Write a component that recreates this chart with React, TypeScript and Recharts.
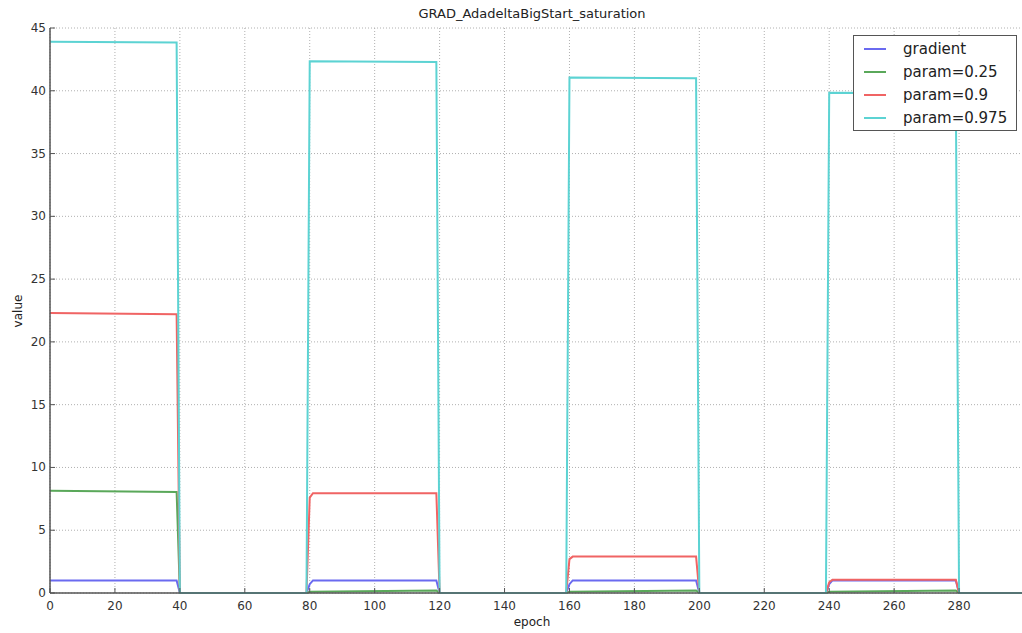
import React from "react";
import { LineChart, Line, XAxis, YAxis, CartesianGrid } from "recharts";

// tick values
const xTicks = [0, 20, 40, 60, 80, 100, 120, 140, 160, 180, 200, 220, 240, 260, 280];
const yTicks = [0, 5, 10, 15, 20, 25, 30, 35, 40, 45];

// breakpoints of each series
const gradient = [
  { epoch: 0, value: 1 }, { epoch: 39, value: 1 }, { epoch: 40, value: 0 },
  { epoch: 79, value: 0 }, { epoch: 80, value: 0.7 }, { epoch: 81, value: 1 },
  { epoch: 119, value: 1 }, { epoch: 120, value: 0 },
  { epoch: 159, value: 0 }, { epoch: 160, value: 0.7 }, { epoch: 161, value: 1 },
  { epoch: 199, value: 1 }, { epoch: 200, value: 0 },
  { epoch: 239, value: 0 }, { epoch: 240, value: 0.7 }, { epoch: 241, value: 1 },
  { epoch: 279, value: 1 }, { epoch: 280, value: 0 }, { epoch: 300, value: 0 },
];

const param025 = [
  { epoch: 0, value: 8.15 }, { epoch: 39, value: 8.05 }, { epoch: 40, value: 0 },
  { epoch: 79, value: 0 }, { epoch: 80, value: 0.1 }, { epoch: 119, value: 0.2 }, { epoch: 120, value: 0 },
  { epoch: 159, value: 0 }, { epoch: 160, value: 0.1 }, { epoch: 199, value: 0.2 }, { epoch: 200, value: 0 },
  { epoch: 239, value: 0 }, { epoch: 240, value: 0.1 }, { epoch: 279, value: 0.2 }, { epoch: 280, value: 0 },
  { epoch: 300, value: 0 },
];

const param09 = [
  { epoch: 0, value: 22.3 }, { epoch: 39, value: 22.2 }, { epoch: 40, value: 0 },
  { epoch: 79, value: 0 }, { epoch: 80, value: 7.6 }, { epoch: 81, value: 7.95 },
  { epoch: 119, value: 7.95 }, { epoch: 120, value: 0 },
  { epoch: 159, value: 0 }, { epoch: 160, value: 2.7 }, { epoch: 161, value: 2.9 },
  { epoch: 199, value: 2.9 }, { epoch: 200, value: 0 },
  { epoch: 239, value: 0 }, { epoch: 240, value: 0.85 }, { epoch: 241, value: 1.05 },
  { epoch: 279, value: 1.05 }, { epoch: 280, value: 0 }, { epoch: 300, value: 0 },
];

const param0975 = [
  { epoch: 0, value: 43.9 }, { epoch: 39, value: 43.85 }, { epoch: 40, value: 0 },
  { epoch: 79, value: 0 }, { epoch: 80, value: 42.35 }, { epoch: 119, value: 42.3 }, { epoch: 120, value: 0 },
  { epoch: 159, value: 0 }, { epoch: 160, value: 41.05 }, { epoch: 199, value: 41.0 }, { epoch: 200, value: 0 },
  { epoch: 239, value: 0 }, { epoch: 240, value: 39.85 }, { epoch: 279, value: 39.8 }, { epoch: 280, value: 0 },
  { epoch: 300, value: 0 },
];

const seriesNames = ["gradient", "param=0.25", "param=0.9", "param=0.975"];
const seriesColors = ["#6a6af0", "#5aa85a", "#f06464", "#5cd3d3"];

const AXIS = "#555";
const FONT = "'DejaVu Sans', sans-serif";

const BottomTick = (props: any) => {
  const { x, y, payload } = props;
  return (
    <g>
      <line x1={x} x2={x} y1={y} y2={y - 5} stroke={AXIS} />
      <text x={x} y={y + 17} textAnchor="middle" fontSize={12} fill="#333" fontFamily={FONT}>
        {payload.value}
      </text>
    </g>
  );
};

const TopTick = (props: any) => {
  const { x, y } = props;
  return <line x1={x} x2={x} y1={y} y2={y + 5} stroke={AXIS} />;
};

const LeftTick = (props: any) => {
  const { x, y, payload } = props;
  return (
    <g>
      <line x1={x} x2={x + 5} y1={y} y2={y} stroke={AXIS} />
      <text x={x - 4} y={y + 4} textAnchor="end" fontSize={12} fill="#333" fontFamily={FONT}>
        {payload.value}
      </text>
    </g>
  );
};

const LegendBox = () => (
  <div
    style={{
      position: "absolute",
      left: 853,
      top: 35,
      width: 164,
      height: 96,
      border: "1px solid #555",
      background: "#fff",
      fontFamily: FONT,
      fontSize: 15,
      color: "#222",
      boxSizing: "border-box",
      paddingTop: 1,
    }}
  >
    {seriesNames.map((name, i) => (
      <div key={name} style={{ display: "flex", alignItems: "center", height: 23 }}>
        <div style={{ width: 22, height: 2, background: seriesColors[i], marginLeft: 10, marginRight: 17 }} />
        <span>{name}</span>
      </div>
    ))}
  </div>
);

const App: React.FC = () => {
  const series = [gradient, param025, param09, param0975];
  return (
    <div
      style={{
        position: "absolute",
        left: 0,
        top: 0,
        width: 1022,
        height: 633,
        overflow: "hidden",
        background: "#fff",
        fontFamily: FONT,
      }}
    >
      <div style={{ position: "absolute", left: 0, width: 1064, top: 6, textAlign: "center", fontSize: 13, color: "#222" }}>
        GRAD_AdadeltaBigStart_saturation
      </div>
      <div style={{ position: "absolute", left: 0, width: 1064, top: 615, textAlign: "center", fontSize: 12, color: "#222" }}>
        epoch
      </div>
      <div
        style={{
          position: "absolute",
          left: 18,
          top: 311,
          fontSize: 12,
          color: "#222",
          transform: "translate(-50%, -50%) rotate(-90deg)",
        }}
      >
        value
      </div>
      <LineChart
        width={1024}
        height={633}
        margin={{ top: 28, right: 0, bottom: 10, left: 0 }}
        style={{ position: "absolute", left: 0, top: 0 }}
      >
        <CartesianGrid stroke="#b0b0b0" strokeDasharray="1 2" />
        <XAxis
          type="number"
          dataKey="epoch"
          domain={[0, 300]}
          ticks={xTicks}
          allowDataOverflow
          height={30}
          tickSize={0}
          tickMargin={0}
          tickLine={false}
          axisLine={{ stroke: AXIS, strokeWidth: 1.5 }}
          tick={<BottomTick />}
        />
        <XAxis
          xAxisId="top"
          orientation="top"
          type="number"
          dataKey="epoch"
          domain={[0, 300]}
          ticks={xTicks}
          height={0}
          tickSize={0}
          tickMargin={0}
          tickLine={false}
          axisLine={{ stroke: AXIS, strokeWidth: 1.5 }}
          tick={<TopTick />}
        />
        <YAxis
          type="number"
          dataKey="value"
          domain={[0, 45]}
          ticks={yTicks}
          width={50}
          tickSize={0}
          tickMargin={0}
          tickLine={false}
          axisLine={{ stroke: AXIS, strokeWidth: 1.5 }}
          tick={<LeftTick />}
        />
        {series.map((data, i) => (
          <Line
            key={seriesNames[i]}
            data={data}
            dataKey="value"
            name={seriesNames[i]}
            type="linear"
            stroke={seriesColors[i]}
            strokeWidth={2}
            dot={false}
            isAnimationActive={false}
          />
        ))}
      </LineChart>
      <LegendBox />
    </div>
  );
};

export default App;
